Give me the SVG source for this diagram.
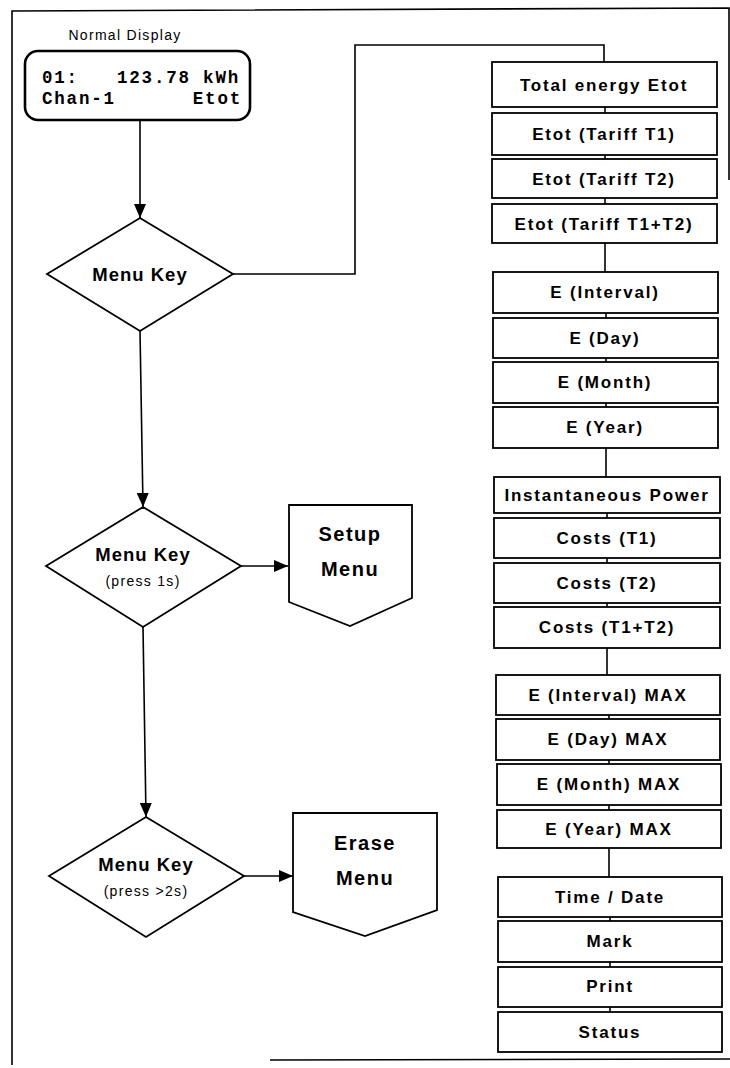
<svg xmlns="http://www.w3.org/2000/svg" width="730" height="1068" viewBox="0 0 730 1068">
<style>
.ln{fill:none;stroke:#000;stroke-width:1.6}
.bx{fill:#fff;stroke:#000;stroke-width:1.8}
.bt{font-family:"Liberation Sans",Arial,sans-serif;font-weight:bold;font-size:17px;letter-spacing:1.8px;text-anchor:middle;fill:#000}
.dt{font-family:"Liberation Sans",Arial,sans-serif;font-weight:bold;font-size:18.5px;letter-spacing:1px;text-anchor:middle;fill:#000}
.st{font-family:"Liberation Sans",Arial,sans-serif;font-size:14px;letter-spacing:1.3px;text-anchor:middle;fill:#000}
.mt{font-family:"Liberation Sans",Arial,sans-serif;font-weight:bold;font-size:20px;letter-spacing:1.5px;text-anchor:middle;fill:#000}
.mono{font-family:"Liberation Mono","Courier New",monospace;font-weight:bold;font-size:17.5px;letter-spacing:1.8px;fill:#000}
</style>
<defs>
<marker id="ah" markerWidth="14" markerHeight="12" refX="14" refY="6" orient="auto" markerUnits="userSpaceOnUse">
<path d="M0,0 L14,6 L0,12 Z" fill="#000"/>
</marker>
</defs>
<g id="frame" class="ln">
<path d="M12,1065 L12,11 L729,8 L729,180"/>
<path d="M270,1060 L730,1059"/>
</g>
<g id="connectors" class="ln">
<path d="M140,120 L140,218" marker-end="url(#ah)"/>
<path d="M233,274 L355,274 L355,45 L604,45 L604,62"/>
<path d="M140,331 L143,507" marker-end="url(#ah)"/>
<path d="M241,566 L288,566" marker-end="url(#ah)"/>
<path d="M143,627 L146,817" marker-end="url(#ah)"/>
<path d="M244,876 L293,876" marker-end="url(#ah)"/>
<path d="M605,107 L605,272"/>
<path d="M606,313 L606,477"/>
<path d="M607,513 L607,675"/>
<path d="M609,715 L609,877"/>
<path d="M610,917 L610,1012"/>
</g>
<g id="normal-display">
<text class="st" x="125" y="40">Normal Display</text>
<rect x="25" y="51" width="225" height="69" rx="13" fill="#fff" stroke="#000" stroke-width="2.6"/>
<text class="mono" x="42" y="83">01:</text>
<text class="mono" x="117" y="83">123.78 kWh</text>
<text class="mono" x="42" y="104">Chan-1</text>
<text class="mono" x="242" y="104" text-anchor="end">Etot</text>
</g>
<g id="menu-key-1">
<polygon class="bx" points="140,218 233,274 140,331 47,274"/>
<text class="dt" x="140" y="281">Menu Key</text>
</g>
<g id="menu-key-2">
<polygon class="bx" points="143,507 241,566 143,627 46,566"/>
<text class="dt" x="143" y="561">Menu Key</text>
<text class="st" x="143" y="586">(press 1s)</text>
</g>
<g id="menu-key-3">
<polygon class="bx" points="146,817 244,876 146,937 49,876"/>
<text class="dt" x="146" y="871">Menu Key</text>
<text class="st" x="146" y="896">(press &gt;2s)</text>
</g>
<g id="setup-menu">
<polygon class="bx" points="289,505 412,505 412,598 350,626 289,602"/>
<text class="mt" x="350" y="541">Setup</text>
<text class="mt" x="350" y="576">Menu</text>
</g>
<g id="erase-menu">
<polygon class="bx" points="293,813 437,813 437,910 365,936 293,912"/>
<text class="mt" x="365" y="850">Erase</text>
<text class="mt" x="365" y="885">Menu</text>
</g>
<g id="b1"><rect class="bx" x="492" y="62" width="225" height="45"/><text class="bt" x="604" y="91">Total energy Etot</text></g>
<g id="b2"><rect class="bx" x="492" y="113" width="225" height="42"/><text class="bt" x="604" y="140">Etot (Tariff T1)</text></g>
<g id="b3"><rect class="bx" x="492" y="159" width="225" height="39"/><text class="bt" x="604" y="185">Etot (Tariff T2)</text></g>
<g id="b4"><rect class="bx" x="492" y="204" width="225" height="39"/><text class="bt" x="604" y="230">Etot (Tariff T1+T2)</text></g>
<g id="b5"><rect class="bx" x="493" y="272" width="225" height="41"/><text class="bt" x="605" y="298">E (Interval)</text></g>
<g id="b6"><rect class="bx" x="493" y="318" width="225" height="40"/><text class="bt" x="605" y="344">E (Day)</text></g>
<g id="b7"><rect class="bx" x="493" y="362" width="225" height="41"/><text class="bt" x="605" y="388">E (Month)</text></g>
<g id="b8"><rect class="bx" x="493" y="407" width="225" height="41"/><text class="bt" x="605" y="433">E (Year)</text></g>
<g id="b9"><rect class="bx" x="494" y="477" width="226" height="36"/><text class="bt" x="607" y="501">Instantaneous Power</text></g>
<g id="b10"><rect class="bx" x="494" y="518" width="226" height="40"/><text class="bt" x="607" y="544">Costs (T1)</text></g>
<g id="b11"><rect class="bx" x="494" y="563" width="226" height="40"/><text class="bt" x="607" y="589">Costs (T2)</text></g>
<g id="b12"><rect class="bx" x="494" y="607" width="226" height="41"/><text class="bt" x="607" y="633">Costs (T1+T2)</text></g>
<g id="b13"><rect class="bx" x="496" y="675" width="224" height="40"/><text class="bt" x="608" y="701">E (Interval) MAX</text></g>
<g id="b14"><rect class="bx" x="496" y="719" width="224" height="41"/><text class="bt" x="608" y="745">E (Day) MAX</text></g>
<g id="b15"><rect class="bx" x="497" y="764" width="224" height="41"/><text class="bt" x="609" y="790">E (Month) MAX</text></g>
<g id="b16"><rect class="bx" x="497" y="810" width="224" height="38"/><text class="bt" x="609" y="835">E (Year) MAX</text></g>
<g id="b17"><rect class="bx" x="498" y="877" width="224" height="40"/><text class="bt" x="610" y="903">Time / Date</text></g>
<g id="b18"><rect class="bx" x="498" y="921" width="224" height="41"/><text class="bt" x="610" y="947">Mark</text></g>
<g id="b19"><rect class="bx" x="498" y="967" width="224" height="40"/><text class="bt" x="610" y="992">Print</text></g>
<g id="b20"><rect class="bx" x="498" y="1012" width="224" height="40"/><text class="bt" x="610" y="1038">Status</text></g>
</svg>
